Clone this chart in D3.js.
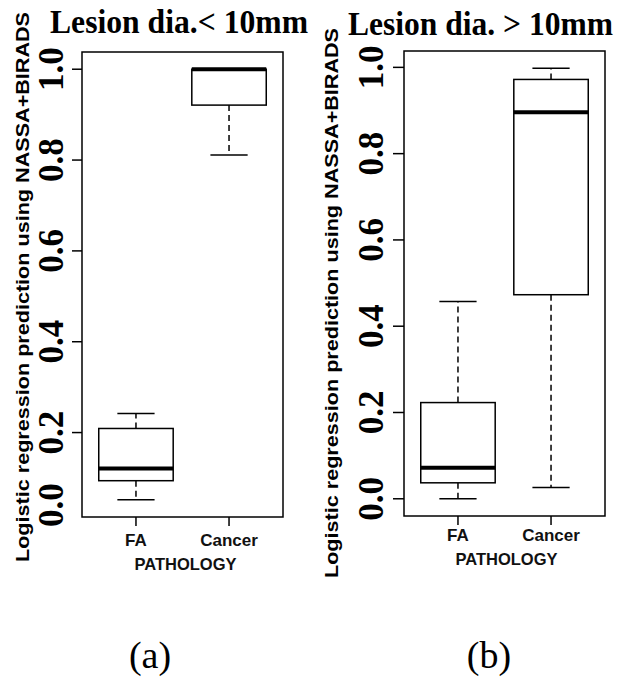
<!DOCTYPE html>
<html>
<head>
<meta charset="utf-8">
<script src="https://cdn.jsdelivr.net/npm/d3@7"></script>
<style>
  html, body { margin: 0; padding: 0; background: #fff; }
  svg { display: block; }
</style>
</head>
<body>
<svg id="chart" width="624" height="683"></svg>
<script>
// ---- data ----
const categories = ["FA", "Cancer"];
const yTicks = [0.0, 0.2, 0.4, 0.6, 0.8, 1.0];
const panelTitles = ["Lesion dia.< 10mm", "Lesion dia. > 10mm"];
const panelCaptions = ["(a)", "(b)"];
const yAxisTitle = "Logistic regression prediction using NASSA+BIRADS";
const xAxisTitle = "PATHOLOGY";
// five-number summaries [lowWhisker, q1, median, q3, highWhisker]
const statsSmall = [
  [0.052, 0.094, 0.121, 0.209, 0.242],   // FA
  [0.811, 0.921, 1.0, 1.0, 1.0]          // Cancer
];
const statsLarge = [
  [0.0, 0.037, 0.072, 0.223, 0.457],     // FA
  [0.026, 0.473, 0.896, 0.972, 0.998]    // Cancer
];

// ---- layout ----
const panels = [
  { stats: statsSmall, x0: 82, x1: 283, y0: 52, y1: 517, tickLen: 10, labelX: 63,
    titleX: 50, titleY: 33, titleLen: 258, axisTitleX: 29, axisTitleMid: 287,
    catY: 546, pathY: 570, capX: 150 },
  { stats: statsLarge, x0: 404, x1: 605, y0: 51, y1: 516, tickLen: 11, labelX: 383,
    titleX: 348, titleY: 35, titleLen: 265, axisTitleX: 338, axisTitleMid: 303,
    catY: 541, pathY: 565, capX: 489 }
];

const svg = d3.select("#chart");

panels.forEach((p, i) => {
  const g = svg.append("g");
  const all = p.stats.flat();
  const lo = d3.min(all), hi = d3.max(all);
  const pad = (hi - lo) * 0.04;
  const y = d3.scaleLinear().domain([lo - pad, hi + pad]).range([p.y1, p.y0]);
  const x = d3.scalePoint().domain(categories).range([p.x0, p.x1]).padding(0.58);
  const step = x.step();
  const bw = step * 0.8;

  // y ticks (only within plotting range) and labels
  yTicks.forEach(v => {
    const yy = y(v);
    const inside = yy >= p.y0 && yy <= p.y1;
    if (inside) {
      g.append("line")
        .attr("x1", p.x0 - p.tickLen).attr("x2", p.x0)
        .attr("y1", yy).attr("y2", yy)
        .attr("stroke", "#000").attr("stroke-width", 1.5);
    }
    const ly = Math.min(yy, p.y1 - 12);
    g.append("text")
      .attr("transform", `translate(${p.labelX},${ly}) rotate(-90)`)
      .attr("text-anchor", "middle")
      .attr("font-family", "'Liberation Serif', 'Times New Roman', serif")
      .attr("font-weight", "bold")
      .attr("font-size", 35)
      .attr("fill", "#000")
      .text(v.toFixed(1));
  });

  // x ticks
  categories.forEach(c => {
    g.append("line")
      .attr("x1", x(c)).attr("x2", x(c))
      .attr("y1", p.y1).attr("y2", p.y1 + 9)
      .attr("stroke", "#000").attr("stroke-width", 1.5);
    g.append("text")
      .attr("x", x(c)).attr("y", p.catY)
      .attr("text-anchor", "middle")
      .attr("font-family", "'Liberation Sans', Arial, sans-serif")
      .attr("font-weight", "bold")
      .attr("font-size", 17)
      .attr("fill", "#111")
      .text(c);
  });

  // boxes
  p.stats.forEach((s, j) => {
    const cx = x(categories[j]);
    const [wl, q1, med, q3, wh] = s;
    // whiskers
    g.append("line").attr("x1", cx).attr("x2", cx).attr("y1", y(q1)).attr("y2", y(wl))
      .attr("stroke", "#000").attr("stroke-width", 1.5).attr("stroke-dasharray", "6,4");
    g.append("line").attr("x1", cx).attr("x2", cx).attr("y1", y(q3)).attr("y2", y(wh))
      .attr("stroke", "#000").attr("stroke-width", 1.5).attr("stroke-dasharray", "6,4");
    // caps
    [wl, wh].forEach(w => {
      g.append("line").attr("x1", cx - bw / 4).attr("x2", cx + bw / 4)
        .attr("y1", y(w)).attr("y2", y(w))
        .attr("stroke", "#000").attr("stroke-width", 1.5);
    });
    // box
    g.append("rect")
      .attr("x", cx - bw / 2).attr("y", y(q3))
      .attr("width", bw).attr("height", Math.max(0, y(q1) - y(q3)))
      .attr("fill", "#fff").attr("stroke", "#000").attr("stroke-width", 1.5);
    // median
    g.append("line").attr("x1", cx - bw / 2).attr("x2", cx + bw / 2)
      .attr("y1", y(med)).attr("y2", y(med))
      .attr("stroke", "#000").attr("stroke-width", 4);
  });

  // plot frame
  g.append("rect")
    .attr("x", p.x0).attr("y", p.y0)
    .attr("width", p.x1 - p.x0).attr("height", p.y1 - p.y0)
    .attr("fill", "none").attr("stroke", "#000").attr("stroke-width", 1.5);

  // panel title
  g.append("text")
    .attr("x", p.titleX).attr("y", p.titleY)
    .attr("font-family", "'Liberation Serif', 'Times New Roman', serif")
    .attr("font-weight", "bold")
    .attr("font-size", 33)
    .attr("textLength", p.titleLen).attr("lengthAdjust", "spacingAndGlyphs")
    .attr("fill", "#000")
    .text(panelTitles[i]);

  // y axis title
  g.append("text")
    .attr("transform", `translate(${p.axisTitleX},${p.axisTitleMid}) rotate(-90)`)
    .attr("text-anchor", "middle")
    .attr("font-family", "'Liberation Sans', Arial, sans-serif")
    .attr("font-weight", "bold")
    .attr("font-size", 19)
    .attr("textLength", 550).attr("lengthAdjust", "spacingAndGlyphs")
    .attr("fill", "#000")
    .text(yAxisTitle);

  // x axis title
  g.append("text")
    .attr("x", (p.x0 + p.x1) / 2 + (i === 0 ? 3 : 2)).attr("y", p.pathY)
    .attr("text-anchor", "middle")
    .attr("font-family", "'Liberation Sans', Arial, sans-serif")
    .attr("font-weight", "bold")
    .attr("font-size", 16.5)
    .attr("fill", "#111")
    .text(xAxisTitle);

  // caption
  svg.append("text")
    .attr("x", p.capX).attr("y", 668)
    .attr("text-anchor", "middle")
    .attr("font-family", "'Liberation Serif', 'Times New Roman', serif")
    .attr("font-size", 38)
    .attr("fill", "#000")
    .text(panelCaptions[i]);
});
</script>
</body>
</html>
